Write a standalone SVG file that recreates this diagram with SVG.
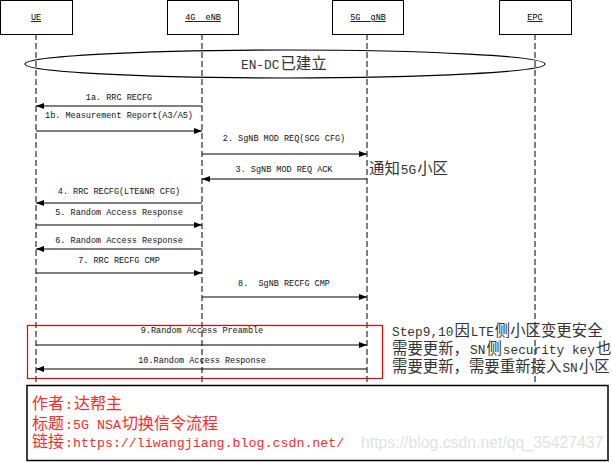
<svg xmlns="http://www.w3.org/2000/svg" width="612" height="462" viewBox="0 0 612 462">
<style>
.box{fill:#fff;stroke:#000;stroke-width:1}
.hdr{font-family:"Liberation Mono",monospace;font-size:8.5px;fill:#000;text-anchor:middle;text-decoration:underline;white-space:pre}
.life{stroke:#000;stroke-width:1;stroke-dasharray:6,3;fill:none}
.msg{stroke:#000;stroke-width:1.2;fill:none;marker-end:url(#ah)}
.lbl{font-family:"Liberation Mono",monospace;font-size:8.5px;fill:#111;text-anchor:middle;white-space:pre}
.cj{font-family:"Liberation Sans","Noto Sans CJK SC",sans-serif;font-size:15.4px;fill:#333}
.as{font-family:"Liberation Mono",monospace;font-size:12.8px;fill:#333;white-space:pre}
.rc{font-family:"Liberation Sans","Noto Sans CJK SC",sans-serif;font-size:16px;fill:#ff2a2a}
.ra{font-family:"Liberation Mono",monospace;font-size:13.3px;fill:#ff2a2a;white-space:pre}
</style>
<defs>
<marker id="ah" viewBox="0 0 8 6" refX="8" refY="3" markerWidth="8" markerHeight="6" markerUnits="userSpaceOnUse" orient="auto">
<path d="M0,0 L8,3 L0,6 z" fill="#000"/>
</marker>
</defs>
<rect width="612" height="462" fill="#fff"/>

<g id="lifelines">
<line class="life" x1="36" y1="34" x2="36" y2="385"/>
<line class="life" x1="202" y1="34" x2="202" y2="385"/>
<line class="life" x1="367" y1="34" x2="367" y2="385"/>
<line class="life" x1="535" y1="34" x2="535" y2="385"/>
</g>

<g id="UE"><rect class="box" x="0.5" y="0.5" width="72" height="34"/><text class="hdr" x="36" y="20">UE</text></g>
<g id="eNB"><rect class="box" x="167.5" y="0.5" width="71" height="34"/><text class="hdr" x="203" y="20">4G  eNB</text></g>
<g id="gNB"><rect class="box" x="332.5" y="0.5" width="71" height="34"/><text class="hdr" x="368" y="20">5G  gNB</text></g>
<g id="EPC"><rect class="box" x="499.5" y="0.5" width="72" height="34"/><text class="hdr" x="535" y="20">EPC</text></g>

<g id="endc">
<ellipse cx="285" cy="64" rx="260" ry="14" fill="none" stroke="#000" stroke-width="1.2"/>
<text class="as" x="241" y="69" fill="#444">EN-DC</text>
<text class="cj" x="280.4" y="69" fill="#444">已建立</text>
</g>

<g id="connectors">
<line class="msg" x1="202" y1="106" x2="36" y2="106"/>
<line class="msg" x1="36" y1="131" x2="202" y2="131"/>
<line class="msg" x1="202" y1="154" x2="367" y2="154"/>
<line class="msg" x1="367" y1="179" x2="202" y2="179"/>
<line class="msg" x1="202" y1="203" x2="36" y2="203"/>
<line class="msg" x1="36" y1="225" x2="202" y2="225"/>
<line class="msg" x1="202" y1="249" x2="36" y2="249"/>
<line class="msg" x1="36" y1="273" x2="202" y2="273"/>
<line class="msg" x1="202" y1="297" x2="367" y2="297"/>
<line class="msg" x1="36" y1="345" x2="367" y2="345"/>
<line class="msg" x1="367" y1="369" x2="36" y2="369"/>
</g>

<g id="labels">
<text class="lbl" x="119" y="100">1a. RRC RECFG</text>
<text class="lbl" x="119" y="118">1b. Measurement Report(A3/A5)</text>
<text class="lbl" x="284" y="141">2. SgNB MOD REQ(SCG CFG)</text>
<text class="lbl" x="284" y="172">3. SgNB MOD REQ ACK</text>
<text class="lbl" x="119" y="194">4. RRC RECFG(LTE&amp;NR CFG)</text>
<text class="lbl" x="119" y="215">5. Random Access Response</text>
<text class="lbl" x="119" y="243">6. Random Access Response</text>
<text class="lbl" x="119" y="263">7. RRC RECFG CMP</text>
<text class="lbl" x="284" y="286">8.  SgNB RECFG CMP</text>
<text class="lbl" x="202" y="333">9.Random Access Preamble</text>
<text class="lbl" x="202" y="363">10.Random Access Response</text>
</g>

<g id="notify">
<text class="cj" x="369" y="174">通知</text>
<text class="as" x="400.8" y="174">5G</text>
<text class="cj" x="417.2" y="174">小区</text>
</g>

<g id="step910">
<rect x="27.5" y="325.5" width="355" height="53" fill="none" stroke="#e00" stroke-width="1.2"/>
<text class="as" x="392" y="336">Step9,10</text>
<text class="cj" x="454.4" y="336">因</text>
<text class="as" x="470.8" y="336">LTE</text>
<text class="cj" x="494.8" y="336">侧小区变更安全</text>
<text class="cj" x="392" y="354">需要更新，</text>
<text class="as" x="470" y="354">SN</text>
<text class="cj" x="486.4" y="354">侧</text>
<text class="as" x="502.8" y="354">security key</text>
<text class="cj" x="596" y="354">也</text>
<text class="cj" x="392" y="372">需要更新，需要重新接入</text>
<text class="as" x="562.4" y="372">SN</text>
<text class="cj" x="578.8" y="372">小区</text>
</g>

<g id="footer">
<rect x="27" y="385.5" width="581" height="75" fill="none" stroke="#000" stroke-width="1.5"/>
<text class="rc" x="32" y="409">作者</text>
<text class="ra" x="65" y="409">:</text>
<text class="rc" x="74" y="409">达帮主</text>
<text class="rc" x="32" y="429">标题</text>
<text class="ra" x="65" y="429">:5G NSA</text>
<text class="rc" x="122" y="429">切换信令流程</text>
<text class="rc" x="32" y="447">链接</text>
<text class="ra" x="65" y="447">:https://liwangjiang.blog.csdn.net/</text>
<text x="361" y="448" font-family="Liberation Sans, sans-serif" font-size="15.8" fill="#e2e2e2">https://blog.csdn.net/qq_35427437</text>
</g>
</svg>
